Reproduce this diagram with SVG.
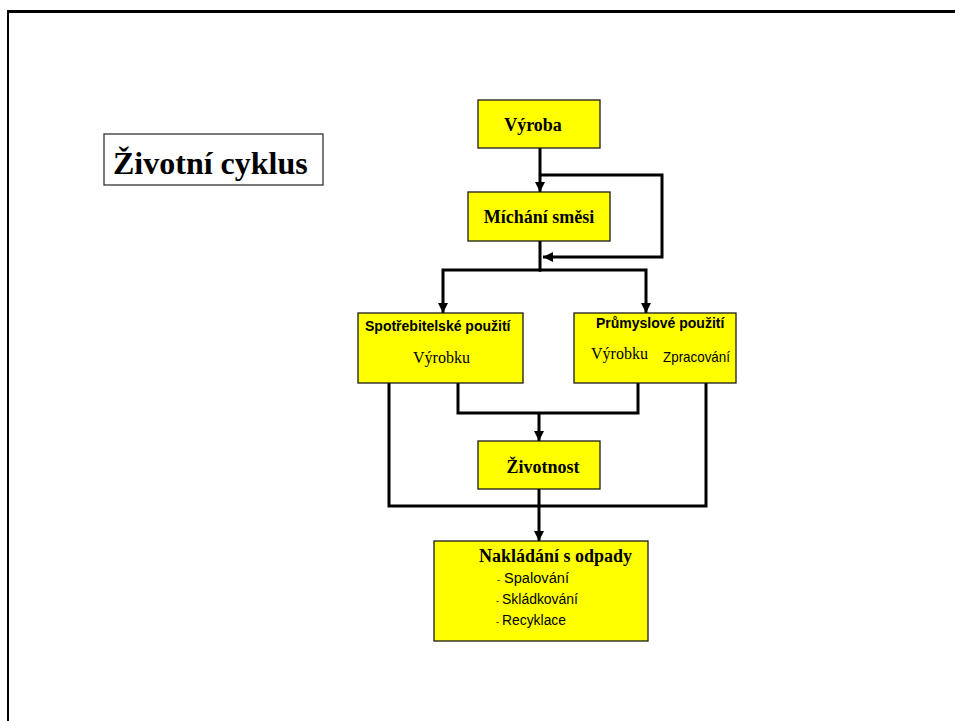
<svg xmlns="http://www.w3.org/2000/svg" width="955" height="721" viewBox="0 0 955 721">
  <style>
    .box { fill: #FFFF00; stroke: #1a1a1a; stroke-width: 1.3; }
    .title-box { fill: #FFFFFF; stroke: #333333; stroke-width: 1.3; }
    .link { fill: none; stroke: #000000; stroke-width: 3; stroke-linejoin: miter; stroke-linecap: square; }
    .arrow { fill: none; stroke: #000000; stroke-width: 3; stroke-linejoin: miter; stroke-linecap: butt; }
    .serif-b { font-family: "Liberation Serif", "Times New Roman", serif; font-weight: bold; fill: #000; }
    .serif { font-family: "Liberation Serif", "Times New Roman", serif; fill: #000; }
    .sans-b { font-family: "Liberation Sans", Arial, sans-serif; font-weight: bold; fill: #000; }
    .sans { font-family: "Liberation Sans", Arial, sans-serif; fill: #000; }
    .dash { font-family: "Liberation Sans", Arial, sans-serif; font-size: 9px; fill: #000; }
  </style>
  <defs>
    <marker id="arrow" viewBox="0 0 10 10" refX="10" refY="5" markerWidth="11" markerHeight="10" markerUnits="userSpaceOnUse" orient="auto">
      <path d="M0,0 L10,5 L0,10 Z" fill="#000"/>
    </marker>
  </defs>

  <rect width="955" height="721" fill="#FFFFFF"/>

  <!-- page frame -->
  <g id="frame">
    <line x1="8" y1="10" x2="8" y2="721" stroke="#000" stroke-width="2"/>
    <line x1="7" y1="11.5" x2="955" y2="11.5" stroke="#000" stroke-width="3"/>
  </g>

  <!-- heading -->
  <g id="title">
    <rect class="title-box" x="104" y="134" width="219" height="51"/>
    <text class="serif-b" x="113" y="174" font-size="32">Životní cyklus</text>
  </g>

  <!-- connectors -->
  <g id="connectors">
    <line class="arrow" x1="540" y1="148" x2="540" y2="192" marker-end="url(#arrow)"/>
    <polyline class="arrow" points="540,175 662,175 662,257 543,257" marker-end="url(#arrow)"/>
    <line class="link" x1="540" y1="241" x2="540" y2="270"/>
    <polyline class="arrow" points="541,270 443,270 443,313" marker-end="url(#arrow)"/>
    <polyline class="arrow" points="539,270 646,270 646,313" marker-end="url(#arrow)"/>
    <polyline class="link" points="458,384 458,413 638,413 638,384"/>
    <line class="arrow" x1="539" y1="413" x2="539" y2="441" marker-end="url(#arrow)"/>
    <polyline class="link" points="389,384 389,506 706,506 706,384"/>
    <line class="arrow" x1="539" y1="489" x2="539" y2="541" marker-end="url(#arrow)"/>
  </g>

  <g id="vyroba">
    <rect class="box" x="478" y="100" width="122" height="48"/>
    <text class="serif-b" x="533" y="131" font-size="18" text-anchor="middle">Výroba</text>
  </g>

  <g id="michani">
    <rect class="box" x="468" y="192" width="142" height="49"/>
    <text class="serif-b" x="539" y="223" font-size="18" text-anchor="middle">Míchání směsi</text>
  </g>

  <g id="spotrebitelske">
    <rect class="box" x="358" y="313" width="165" height="70"/>
    <text class="sans-b" x="365" y="331" font-size="14">Spotřebitelské použití</text>
    <text class="serif" x="413" y="363" font-size="16">Výrobku</text>
  </g>

  <g id="prumyslove">
    <rect class="box" x="574" y="313" width="162" height="70"/>
    <text class="sans-b" x="596" y="328" font-size="14">Průmyslové použití</text>
    <text class="serif" x="591" y="359" font-size="16">Výrobku</text>
    <text class="sans" x="663" y="362" font-size="15" textLength="67" lengthAdjust="spacingAndGlyphs">Zpracování</text>
  </g>

  <g id="zivotnost">
    <rect class="box" x="478" y="441" width="122" height="48"/>
    <text class="serif-b" x="543" y="473" font-size="18" text-anchor="middle">Životnost</text>
  </g>

  <g id="nakladani">
    <rect class="box" x="434" y="541" width="214" height="100"/>
    <text class="serif-b" x="479" y="562" font-size="18">Nakládání s odpady</text>
    <text class="dash" x="497" y="583">-</text>
    <text class="sans" x="504" y="583" font-size="15.5" textLength="65" lengthAdjust="spacingAndGlyphs">Spalování</text>
    <text class="dash" x="496" y="604">-</text>
    <text class="sans" x="502" y="604" font-size="15.5" textLength="76" lengthAdjust="spacingAndGlyphs">Skládkování</text>
    <text class="dash" x="496" y="625">-</text>
    <text class="sans" x="502" y="625" font-size="15.5" textLength="64" lengthAdjust="spacingAndGlyphs">Recyklace</text>
  </g>
</svg>
